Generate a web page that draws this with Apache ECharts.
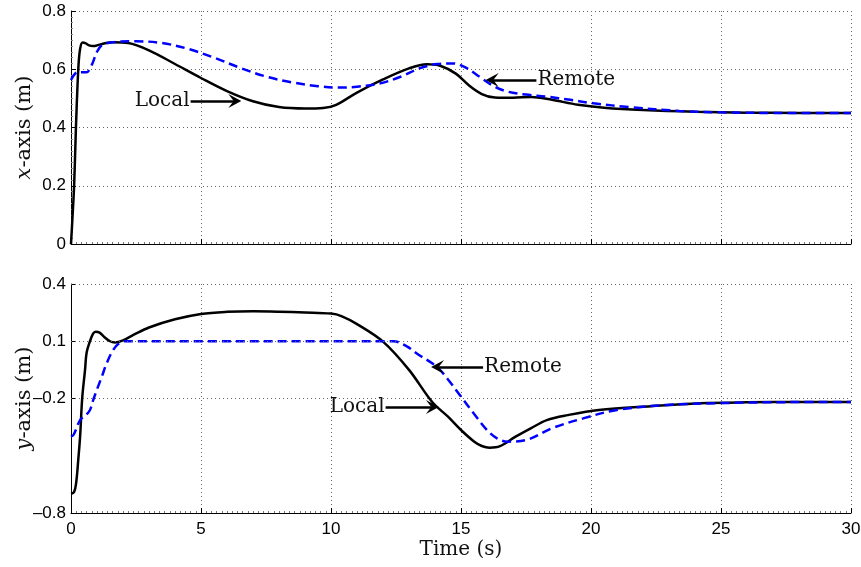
<!DOCTYPE html>
<html><head><meta charset="utf-8">
<script src="https://cdn.jsdelivr.net/npm/echarts@6/dist/echarts.min.js"></script>
<style>html,body{margin:0;padding:0;background:#fff}#c{width:861px;height:567px}</style>
</head><body><div id="c"></div>
<script>
// ---- data ----
const timeTicks = [0, 5, 10, 15, 20, 25, 30];
const topYTicks = [0, 0.2, 0.4, 0.6, 0.8];
const bottomYTicks = [-0.8, -0.2, 0.1, 0.4];

const localXt = [0,0.05,0.12,0.19,0.28,0.35,0.45,0.55,0.7,0.85,1.0,1.3,1.6,2.2,3,4,5,6,7,8,9,9.7,10.2,11,12,13,13.7,14.2,14.8,15.3,15.8,16.3,17,17.7,18.5,19.5,20.5,22,24,26,28,30];
const localXv = [0,0.08,0.2,0.4,0.6,0.67,0.692,0.69,0.682,0.68,0.682,0.689,0.693,0.69,0.665,0.618,0.57,0.525,0.49,0.47,0.465,0.467,0.478,0.52,0.565,0.603,0.617,0.612,0.585,0.545,0.515,0.503,0.502,0.505,0.495,0.478,0.468,0.46,0.454,0.451,0.45,0.45];

const remoteXt = [0,0.25,0.45,0.6,0.8,1.0,1.2,1.6,2.5,3.5,4.5,5.5,6.5,7.5,8.5,9.5,10.3,11,11.9,12.7,13.4,14.1,14.7,15.2,15.7,16.3,16.8,17.5,18.3,19.2,20.1,21.5,23.4,25,27,30];
const remoteXv = [0.563,0.59,0.59,0.59,0.615,0.66,0.683,0.693,0.696,0.69,0.67,0.64,0.605,0.575,0.555,0.542,0.537,0.54,0.552,0.575,0.603,0.618,0.62,0.605,0.575,0.54,0.523,0.513,0.506,0.495,0.483,0.47,0.457,0.452,0.45,0.45];

const localYt = [0,0.12,0.2,0.28,0.35,0.43,0.54,0.6,0.73,0.85,0.95,1.1,1.3,1.5,1.69,2.0,2.4,3,4,5,6,7,8,9,10,10.4,11,12,13,13.9,14.5,15,15.5,15.8,16.1,16.5,17.1,17.7,18.3,19.1,20.3,22.3,24.2,26,28,30];
const localYv = [-0.7,-0.69,-0.64,-0.52,-0.4,-0.2,-0.05,0.04,0.1,0.14,0.15,0.145,0.12,0.1,0.094,0.105,0.133,0.172,0.215,0.243,0.254,0.257,0.255,0.251,0.245,0.232,0.19,0.098,-0.05,-0.22,-0.295,-0.365,-0.425,-0.449,-0.458,-0.45,-0.4,-0.355,-0.313,-0.287,-0.26,-0.24,-0.225,-0.22,-0.218,-0.218];

const remoteYt = [0,0.1,0.35,0.55,0.73,0.85,0.99,1.2,1.37,1.62,1.85,2.1,12.4,12.9,13.3,14.07,14.5,15,15.5,16,16.4,16.8,17.5,18.5,19.7,21,22.9,25,27.5,30];
const remoteYv = [-0.4,-0.39,-0.313,-0.29,-0.26,-0.21,-0.156,-0.08,-0.016,0.054,0.09,0.1,0.1,0.075,0.036,-0.034,-0.1,-0.19,-0.28,-0.365,-0.41,-0.426,-0.418,-0.356,-0.304,-0.26,-0.234,-0.224,-0.219,-0.218];

// annotation arrows: [label, fromT, fromV, toT, toV]
const topArrows = [["Local", 4.6, 0.491, 6.3, 0.491], ["Remote", 17.9, 0.563, 16.2, 0.563]];
const bottomArrows = [["Remote", 15.85, -0.035, 14.1, -0.035], ["Local", 12.1, -0.245, 13.9, -0.245]];
const bottomGridValues = [0.4, 0.1, -0.2];

// ---- chart ----
const zip = (t, v) => t.map((x, i) => [x, v[i]]);
const fmt = v => { const r = Math.round(v * 10) / 10; return (r < 0 ? '\u2013' : '') + Math.abs(r); };
const serif = 'DejaVu Serif';
const sans = 'Liberation Sans';
const dotted = { type: [1, 3], color: '#666', width: 1 };
const arrowHead = 'path://M0,0 L7,12 L0,7 L-7,12 Z';

function arrowLines(list) {
  return list.map(a => [
    { coord: [a[1], a[2]], label: { show: true, formatter: a[0], position: 'start', distance: 1,
        fontFamily: serif, fontSize: 20, color: '#111' },
      lineStyle: { color: '#000', width: 2.5, type: 'solid' } },
    { coord: [a[3], a[4]] }
  ]);
}

function xAxisCfg(gridIndex, showLabels) {
  return {
    type: 'value', gridIndex, min: 0, max: 30, interval: 5,
    axisLine: { onZero: false, lineStyle: { color: '#000', width: 1 } },
    axisTick: { inside: true, length: 5, lineStyle: { color: '#000' } },
    minorTick: { show: true, splitNumber: 25, length: 2, lineStyle: { color: '#777' } },
    axisLabel: { show: showLabels, fontFamily: sans, fontSize: 17, color: '#000', margin: 8,
      customValues: timeTicks },
    splitLine: { show: true, lineStyle: dotted },
    name: showLabels ? 'Time (s)' : '', nameLocation: 'middle', nameGap: 27, nameMoveOverlap: false,
    nameTextStyle: { fontFamily: serif, fontSize: 20, color: '#111' }
  };
}

function yName(letter) {
  return {
    name: '{i|' + letter + '}-axis (m)', nameLocation: 'middle', nameGap: 36, nameRotate: 90,
    nameMoveOverlap: false,
    nameTextStyle: { fontFamily: serif, fontSize: 21, color: '#111',
      rich: { i: { fontFamily: serif, fontStyle: 'italic', fontSize: 21, color: '#111' } } }
  };
}

const chart = echarts.init(document.getElementById('c'), null, { renderer: 'canvas' });
chart.setOption({
  animation: false,
  backgroundColor: '#fff',
  grid: [
    { left: 71, top: 11, width: 780, height: 233, containLabel: false, outerBoundsMode: 'none' },
    { left: 71, top: 284, width: 780, height: 229, containLabel: false, outerBoundsMode: 'none' }
  ],
  xAxis: [xAxisCfg(0, false), xAxisCfg(1, true)],
  yAxis: [
    Object.assign({
      type: 'value', gridIndex: 0, min: 0, max: 0.8, interval: 0.2,
      axisLine: { show: true, lineStyle: { color: '#000' } },
      axisTick: { show: true, inside: true, length: 5, lineStyle: { color: '#000' } },
      minorTick: { show: true, splitNumber: 10, length: 2, lineStyle: { color: '#888' } },
      axisLabel: { fontFamily: sans, fontSize: 17, color: '#000', margin: 5, formatter: fmt, customValues: topYTicks },
      splitLine: { show: true, lineStyle: dotted }
    }, yName('x')),
    Object.assign({
      type: 'value', gridIndex: 1, min: -0.8, max: 0.4,
      axisLine: { show: true, lineStyle: { color: '#000' } },
      axisTick: { show: true, inside: true, length: 5, lineStyle: { color: '#000' }, customValues: bottomYTicks },
      axisLabel: { fontFamily: sans, fontSize: 17, color: '#000', margin: 5, formatter: fmt, customValues: bottomYTicks },
      splitLine: { show: false }
    }, yName('y'))
  ],
  series: [
    {
      name: 'Local x', type: 'line', xAxisIndex: 0, yAxisIndex: 0, data: zip(localXt, localXv),
      showSymbol: false, smooth: 0.35, lineStyle: { color: '#000', width: 2.5 },
      markLine: { silent: true, symbol: ['none', arrowHead], symbolSize: [14, 13], data: arrowLines(topArrows) }
    },
    {
      name: 'Remote x', type: 'line', xAxisIndex: 0, yAxisIndex: 0, data: zip(remoteXt, remoteXv),
      showSymbol: false, smooth: 0.35, lineStyle: { color: '#0000ff', width: 2.5, type: [9, 5] }
    },
    {
      name: 'Local y', type: 'line', xAxisIndex: 1, yAxisIndex: 1, data: zip(localYt, localYv),
      showSymbol: false, smooth: 0.35, lineStyle: { color: '#000', width: 2.5 },
      markLine: { silent: true, symbol: ['none', arrowHead], symbolSize: [14, 13], data: arrowLines(bottomArrows) }
    },
    {
      name: 'Remote y', type: 'line', xAxisIndex: 1, yAxisIndex: 1, data: zip(remoteYt, remoteYv),
      showSymbol: false, smooth: 0.35, lineStyle: { color: '#0000ff', width: 2.5, type: [9, 5] },
      z: 3
    },
    {
      name: 'grid y', type: 'line', xAxisIndex: 1, yAxisIndex: 1, data: [[0, 0.1]], showSymbol: false,
      lineStyle: { opacity: 0 }, z: 1,
      markLine: { silent: true, symbol: ['none', 'none'], label: { show: false },
        lineStyle: dotted, data: bottomGridValues.map(v => ({ yAxis: v })) }
    }
  ]
});
</script></body></html>
